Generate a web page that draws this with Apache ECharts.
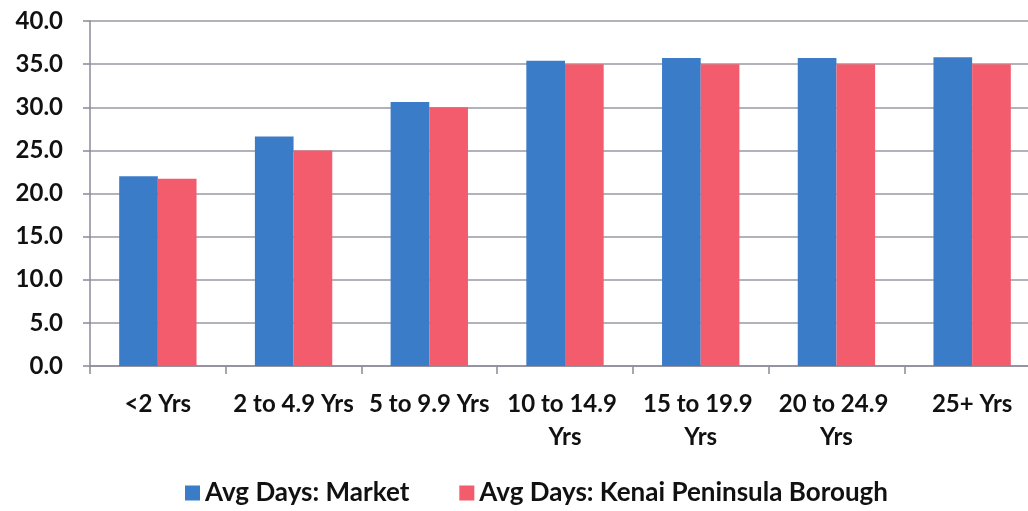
<!DOCTYPE html>
<html>
<head>
<meta charset="utf-8">
<script src="https://cdn.jsdelivr.net/npm/echarts@6/dist/echarts.min.js"></script>
<style>
  html, body { margin: 0; padding: 0; background: #fff; overflow: hidden; }
  /* the original plot runs a little past the right edge of the picture */
  #chart { width: 1042px; height: 511px; }
</style>
</head>
<body>
<div id="chart"></div>
<script>
  // categories and values
  var categories = ['<2 Yrs', '2 to 4.9 Yrs', '5 to 9.9 Yrs', '10 to 14.9 Yrs', '15 to 19.9 Yrs', '20 to 24.9 Yrs', '25+ Yrs'];
  var marketDays = [22.0, 26.6, 30.6, 35.4, 35.7, 35.7, 35.8];
  var kenaiDays = [21.7, 25.0, 30.0, 35.0, 35.0, 35.0, 35.0];
  var seriesNames = ['Avg Days: Market', 'Avg Days: Kenai Peninsula Borough'];

  var axisColor = '#8c8a98';
  var labelFont = 'Lato, "Open Sans", sans-serif';

  var chart = echarts.init(document.getElementById('chart'));
  chart.setOption({
    animation: false,
    grid: {
      left: 90,
      right: 0,
      top: 21,
      bottom: 145,
      containLabel: false
    },
    legend: {
      bottom: 0,
      left: 180,
      itemWidth: 15,
      itemHeight: 15,
      itemGap: 50,
      icon: 'rect',
      textStyle: {
        color: '#111',
        fontFamily: labelFont,
        fontWeight: 'bold',
        fontSize: 26
      },
      data: seriesNames
    },
    xAxis: {
      type: 'category',
      data: categories,
      axisLine: { lineStyle: { color: axisColor, width: 1.5 } },
      axisTick: { show: true, length: 8, lineStyle: { color: axisColor, width: 1.5 } },
      axisLabel: {
        interval: 0,
        margin: 22,
        color: '#111',
        fontFamily: labelFont,
        fontWeight: 'bold',
        fontSize: 24,
        lineHeight: 33,
        width: 134,
        overflow: 'break'
      }
    },
    yAxis: {
      type: 'value',
      min: 0,
      max: 40,
      interval: 5,
      axisLine: { show: true, lineStyle: { color: axisColor, width: 1.5 } },
      axisTick: { show: true, length: 7, lineStyle: { color: axisColor, width: 1.5 } },
      splitLine: { lineStyle: { color: '#9a98a4', width: 1.5 } },
      axisLabel: {
        margin: 27,
        color: '#111',
        fontFamily: labelFont,
        fontWeight: 'bold',
        fontSize: 24,
        formatter: function (v) { return v.toFixed(1); }
      }
    },
    series: [
      {
        name: seriesNames[0],
        type: 'bar',
        data: marketDays,
        barGap: '0%',
        barCategoryGap: '43%',
        itemStyle: { color: '#3b7cc9' }
      },
      {
        name: seriesNames[1],
        type: 'bar',
        data: kenaiDays,
        itemStyle: { color: '#f25c6d' }
      }
    ]
  });
</script>
</body>
</html>
